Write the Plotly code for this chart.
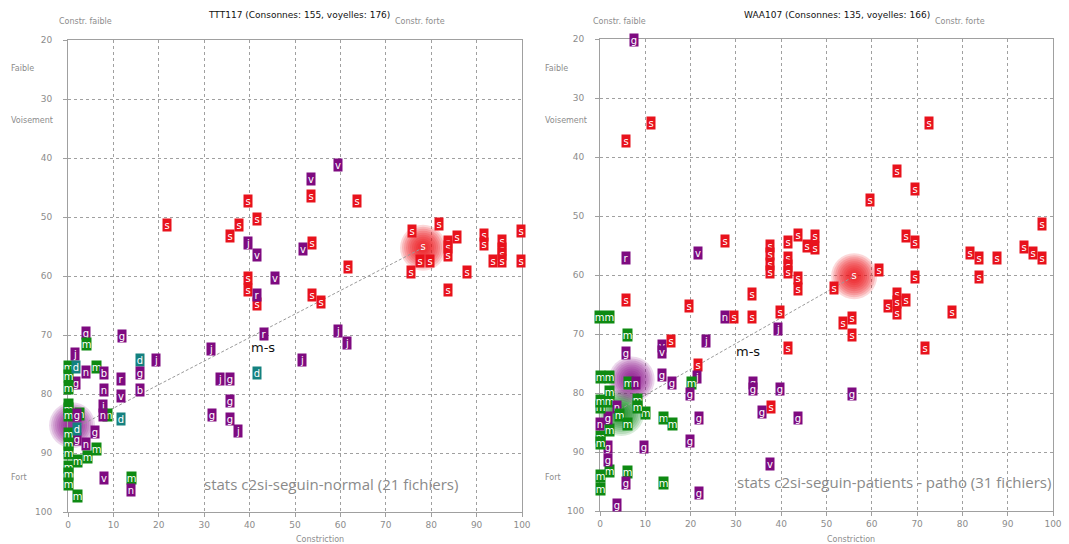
import plotly.graph_objects as go

W, H = 1069, 544

# ---------------- data: left panel (TTT117) ----------------
L_labels = ["v","v","v","v","v",
            "s","s","s","s","s","j","v","s","s","s","r",
            "v","v","s","s","s","s","s","s","s","s","s","s","s","s","s","s","s","s","s","s","s","s","s","s","s","s",
            "v","s","s","v","s","s","j","j","j","r",
            "g","m","g","j","j","d","g","b","r","v","d","j","g","d","g","g","g","j",
            "n","m","b","g","n","j","m","n","g","g","n","m","m","m","v","m","n","m",
            "b","m","m","m","m","m","m","m","m","m","m","m","m","m",
            "g","j","d","b","n","g","n","d","r","n","n","n"]
L_x = [-0.3,-0.3,-0.3,-0.3,-0.3,
       21.7,39.7,37.7,35.7,41.6,39.6,41.6,39.7,39.7,41.6,41.6,
       59.5,53.6,53.6,63.6,101.6,75.7,81.7,85.7,77.6,79.7,83.7,83.7,83.7,75.6,87.8,83.7,91.6,91.6,95.7,95.7,95.7,95.7,93.6,99.7,101.6,99.7,
       51.7,53.8,61.6,45.6,53.8,55.7,59.4,61.5,51.5,43.2,
       3.9,4.1,11.8,31.4,19.4,15.9,15.9,15.9,11.6,11.6,11.7,33.5,35.7,41.7,35.7,31.7,35.7,37.4,
       3.9,6.2,7.9,1.8,7.9,7.8,8.7,7.8,6.0,1.9,3.9,6.2,4.3,2.1,7.9,14.0,13.9,2.1,
       -0.3,0.1,0.1,0.1,0.1,0.1,0.1,2.6,0.1,0.1,0.1,0.1,0.1,0.1,
       -0.3,1.5,1.8,-0.3,-0.3,1.9,-0.3,1.9,-0.3,-0.3,-0.3,-0.3]
L_y = [53.0,54.5,56.5,59.3,60.6,
       51.3,47.3,51.3,53.3,50.4,54.4,56.4,60.4,62.4,64.7,63.3,
       41.2,43.5,46.4,47.3,44.2,52.4,51.2,53.4,57.5,57.5,54.2,55.1,56.5,59.4,59.4,62.4,53.1,54.5,54.1,55.5,56.3,57.5,57.5,52.3,54.5,57.5,
       55.4,54.4,58.4,60.3,63.3,64.4,69.4,71.4,74.3,69.8,
       69.6,71.5,70.2,72.4,74.3,74.3,76.5,79.3,77.4,80.4,84.3,77.4,77.4,76.5,81.2,83.5,84.2,86.3,
       76.3,75.4,76.4,78.1,79.4,82.1,83.5,83.5,86.4,87.6,88.4,89.3,90.6,91.4,94.3,94.3,96.3,97.3,
       81.0,75.4,77.0,79.0,81.9,82.6,83.6,83.4,86.7,88.4,90.0,92.4,93.5,95.2,
       72.5,73.3,75.4,77.4,79.6,83.6,85.5,85.9,91.2,94.3,99.1,100.8]

# ---------------- data: right panel (WAA107) ----------------
R_labels = ["g","s","s","s","s","v","r","s","s","s","s","s","s","s","s","s","s","s","s",
            "s","s","s","s","mm","n","s","s","j",
            "s","s","s","s","s","s","s","s","s","s","s","s","s","s","s","s","s","s","s",
            "s","s","s","s","s","s","s","s","s","g","g",
            "m","g","v","v","s","j","s","j","m","g","g","g","g","g","g","s","g","g","s",
            "g","g","v","m","g","g","m","g","m","g","g",
            "n","n","m","m","g","g","m","m","n","m","g","m","m","m","m","n","m","m","m","m","m","m","m",
            "m","n","m","m","n"]
R_x = [7.5,11.3,72.6,5.7,27.6,21.7,5.7,37.6,37.6,37.6,37.6,41.5,41.5,41.5,41.5,43.6,43.6,43.6,45.6,
       5.7,33.6,19.6,39.7,1.0,27.6,29.6,33.6,39.4,
       65.6,69.6,59.5,67.6,69.6,47.5,47.5,61.5,69.6,51.6,65.6,65.6,65.6,67.6,63.6,55.6,53.6,55.6,77.6,
       81.6,83.6,87.6,83.6,93.5,95.5,97.6,97.6,71.7,55.6,43.6,
       6.1,5.8,13.7,13.7,15.7,23.5,21.6,21.5,20.2,19.8,13.7,15.8,33.8,33.8,39.7,37.7,35.8,21.8,41.5,
       19.8,9.7,37.6,14.1,21.8,3.8,6.1,5.8,2.1,1.8,1.8,
       -0.2,-0.2,0.0,0.0,-0.2,-0.2,0.0,0.0,0.0,2.1,1.8,0.0,0.0,2.1,2.1,3.8,4.3,6.1,10.1,14.1,16.0,8.2,8.2,
       0.0,-0.2,2.1,6.2,7.9]
R_y = [20.2,34.3,34.3,37.3,54.3,56.3,57.2,55.0,56.4,58.1,59.5,54.4,57.1,58.4,59.5,53.3,60.5,62.3,55.1,
       64.2,63.2,65.3,66.2,67.2,67.2,67.2,67.2,69.2,
       42.3,45.4,47.3,53.4,54.4,53.4,55.4,59.2,60.3,62.2,63.2,64.5,66.4,64.3,65.3,67.3,68.2,70.2,66.2,
       56.3,57.2,57.2,60.3,55.3,56.3,57.2,51.3,72.3,80.2,84.2,
       70.2,73.3,72.0,73.1,71.2,71.2,75.3,77.3,78.3,80.2,77.0,78.3,78.3,79.3,79.3,82.3,83.2,84.2,72.3,
       88.1,89.2,92.1,95.3,97.0,99.0,93.4,95.3,93.2,91.3,89.2,
       75.7,79.4,94.1,96.3,89.8,90.9,87.4,88.4,85.2,86.2,84.3,82.4,81.3,81.3,79.8,82.4,83.8,85.3,83.4,84.3,85.3,81.2,82.4,
       77.3,79.4,77.3,78.3,78.3]

# ---------------- glow centroids and m-s link ----------------
L_glow_x = [0.9, 78.2]
L_glow_y = [85.3, 55.2]
L_glow_kind = ["purple", "red"]
L_glow_text = ["", "s"]
R_glow_x = [4.7, 7.0, 56.1]
R_glow_y = [83.4, 77.7, 60.2]
R_glow_kind = ["green", "purple", "red"]
R_glow_text = ["", "", "s"]
L_link_x = [1.5, 78.2]
L_link_y = [85.8, 55.2]
R_link_x = [4.4, 56.1]
R_link_y = [82.8, 60.2]
L_ms = (43.0, 72.1)
R_ms = (32.6, 73.0)

x_ticks = [0, 10, 20, 30, 40, 50, 60, 70, 80, 90, 100]
y_ticks = [20, 30, 40, 50, 60, 70, 80, 90, 100]

titles = ["TTT117 (Consonnes: 155, voyelles: 176)", "WAA107 (Consonnes: 135, voyelles: 166)"]
watermarks = ["stats c2si-seguin-normal (21 fichiers)", "stats c2si-seguin-patients - patho (31 fichiers)"]

# ---------------- styles ----------------
BOX = {"s": "#e8121c", "m": "#0e8a12", "d": "#14817f"}
PURPLE = "#7e0a80"
GLOW = {"red": (238, 10, 20), "purple": (135, 10, 135), "green": (15, 135, 25)}
GRAY = "#8c8c8c"
LINE = "#a0a0a0"
FONT = "DejaVu Sans"

def px(x):
    return x / W

def py(y):
    return 1 - y / H

fig = go.Figure()

panels = [
    ("x", "y", L_labels, L_x, L_y, L_glow_x, L_glow_y, L_glow_kind, L_glow_text, L_link_x, L_link_y, L_ms),
    ("x2", "y2", R_labels, R_x, R_y, R_glow_x, R_glow_y, R_glow_kind, R_glow_text, R_link_x, R_link_y, R_ms),
]

glow_sizes = [46, 42, 38, 34, 30, 26, 22, 18, 14, 10]

annotations = []
for xa, ya, labels, xs, ys, gx, gy, gk, gt, lx, ly, ms in panels:
    # soft glows: stacked translucent discs
    for i in range(len(gx)):
        r, g, b = GLOW[gk[i]]
        for s in glow_sizes:
            fig.add_trace(go.Scatter(
                x=[gx[i]], y=[gy[i]], xaxis=xa, yaxis=ya, mode="markers",
                marker=dict(size=s, color=f"rgba({r},{g},{b},0.16)", line=dict(width=0)),
                hoverinfo="skip", showlegend=False, cliponaxis=False))
        if gt[i]:
            fig.add_trace(go.Scatter(
                x=[gx[i]], y=[gy[i]], xaxis=xa, yaxis=ya, mode="text",
                text=[gt[i]], textposition="middle center",
                textfont=dict(color="white", size=10, family=FONT),
                hoverinfo="skip", showlegend=False, cliponaxis=False))
    # link line
    fig.add_trace(go.Scatter(x=lx, y=ly, xaxis=xa, yaxis=ya, mode="lines",
                             line=dict(color="#9a9a9a", width=1, dash="3px,2px"),
                             hoverinfo="skip", showlegend=False))
    # label boxes
    for lab, xv, yv in zip(labels, xs, ys):
        col = BOX.get(lab[0], PURPLE)
        w = 10 * len(lab) - 1 if lab[0] == "m" else 8 * len(lab)
        annotations.append(dict(
            x=xv, y=yv, xref=xa, yref=ya, text=lab, showarrow=False,
            xanchor="center", yanchor="middle",
            bgcolor=col, font=dict(color="white", size=10, family=FONT),
            width=w, height=12, borderpad=0, align="center", valign="middle"))
    annotations.append(dict(x=ms[0], y=ms[1], xref=xa, yref=ya, text="m-s", showarrow=False,
                            xanchor="center", yanchor="middle",
                            font=dict(color="#111111", size=13, family=FONT)))

# text furniture
small = dict(color=GRAY, size=8, family=FONT)
def note(x, y, txt, font, xanchor="center"):
    annotations.append(dict(x=px(x), y=py(y), xref="paper", yref="paper", text=txt,
                            xanchor=xanchor, yanchor="middle", showarrow=False, font=font))

for cx, txt in [(299, titles[0]), (837, titles[1])]:
    note(cx, 15, txt, dict(color="#111111", size=9, family=FONT))
for cx, txt in [(85, "Constr. faible"), (420, "Constr. forte"), (619, "Constr. faible"), (960, "Constr. forte")]:
    note(cx, 22, txt, small)
for lx0 in [9, 543]:
    for yy, txt in [(68, "Faible"), (120, "Voisement"), (477, "Fort")]:
        note(lx0, yy, txt, small, xanchor="left")
for cx in [320, 851]:
    note(cx, 539, "Constriction", small)
for cx, yy, txt in [(331, 484, watermarks[0]), (894, 482, watermarks[1])]:
    note(cx, yy, txt, dict(color="#8a8a8a", size=15, family="Open Sans"))

axis_common = dict(showline=True, linecolor=LINE, linewidth=1, mirror=True,
                   showgrid=True, gridcolor=LINE, griddash="3px,3px", gridwidth=1,
                   zeroline=False, ticks="outside", ticklen=4, tickcolor=LINE,
                   tickfont=dict(color=GRAY, size=9, family=FONT), fixedrange=True,
                   automargin=False)

fig.update_layout(
    width=W, height=H, autosize=False,
    margin=dict(l=0, r=0, t=0, b=0, pad=0, autoexpand=False),
    paper_bgcolor="white", plot_bgcolor="white",
    showlegend=False,
    annotations=annotations,
    xaxis=dict(domain=[px(68), px(522)], range=[0, 100], tickvals=x_ticks, anchor="y", **axis_common),
    yaxis=dict(domain=[py(512), py(40)], range=[100, 20], tickvals=y_ticks, anchor="x",
               ticklabelstandoff=9, **axis_common),
    xaxis2=dict(domain=[px(600), px(1053)], range=[0, 100], tickvals=x_ticks, anchor="y2", **axis_common),
    yaxis2=dict(domain=[py(511), py(39)], range=[100, 20], tickvals=y_ticks, anchor="x2",
                ticklabelstandoff=9, **axis_common),
)

fig.write_html("out.html", config={"displayModeBar": False},
               post_script="document.body.style.margin='0';document.body.style.overflow='hidden';")
